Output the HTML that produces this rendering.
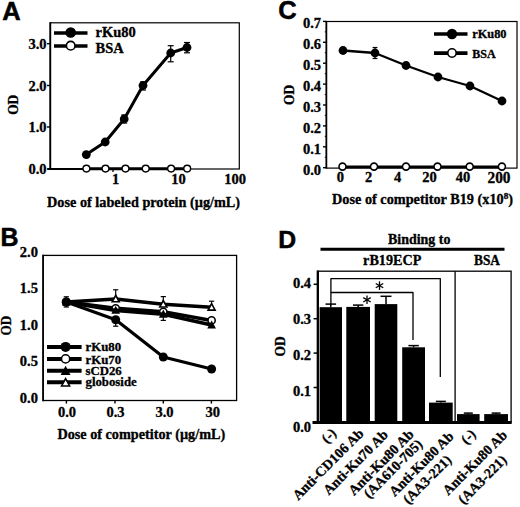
<!DOCTYPE html>
<html><head><meta charset="utf-8"><title>Figure</title>
<style>
html,body{margin:0;padding:0;background:#fff;}
svg{display:block;}
text.s{font-family:"Liberation Serif", serif;font-weight:bold;fill:#000;stroke:#000;stroke-width:0.32px;}
text.h{font-family:"Liberation Sans", sans-serif;font-weight:bold;fill:#000;}
</style></head><body>
<svg width="520" height="507" viewBox="0 0 520 507">
<rect x="0" y="0" width="520" height="507" fill="#fff"/>
<text class="h" x="2.3" y="19.8" font-size="25.5" stroke="#000" stroke-width="0.5">A</text>
<rect x="50.3" y="22.8" width="189.0" height="146.2" fill="none" stroke="#000" stroke-width="1.2"/>
<line x1="50.3" y1="22.2" x2="50.3" y2="169.8" stroke="#000" stroke-width="1.8" stroke-linecap="butt"/>
<line x1="47.5" y1="169" x2="86" y2="169" stroke="#000" stroke-width="1.8" stroke-linecap="butt"/>
<line x1="47" y1="43.7" x2="50" y2="43.7" stroke="#000" stroke-width="1.4" stroke-linecap="butt"/>
<text class="s" x="46.6" y="48.800000000000004" font-size="14.5" text-anchor="end">3.0</text>
<line x1="47" y1="85.5" x2="50" y2="85.5" stroke="#000" stroke-width="1.4" stroke-linecap="butt"/>
<text class="s" x="46.6" y="90.6" font-size="14.5" text-anchor="end">2.0</text>
<line x1="47" y1="127" x2="50" y2="127" stroke="#000" stroke-width="1.4" stroke-linecap="butt"/>
<text class="s" x="46.6" y="132.1" font-size="14.5" text-anchor="end">1.0</text>
<line x1="47" y1="169" x2="50" y2="169" stroke="#000" stroke-width="1.4" stroke-linecap="butt"/>
<text class="s" x="46.6" y="174.1" font-size="14.5" text-anchor="end">0.0</text>
<line x1="113" y1="169" x2="113" y2="172" stroke="#000" stroke-width="1.3" stroke-linecap="butt"/>
<text class="s" x="115.5" y="184.3" font-size="14.5" text-anchor="middle">1</text>
<text class="s" x="178.5" y="184.3" font-size="14.5" text-anchor="middle">10</text>
<text class="s" x="235" y="184.3" font-size="14.5" text-anchor="middle">100</text>
<text class="s" x="143.6" y="206.7" font-size="14" text-anchor="middle" textLength="193" lengthAdjust="spacingAndGlyphs">Dose of labeled protein (&#181;g/mL)</text>
<text class="s" transform="translate(18.1 104.8) rotate(-90) scale(0.865 1)" font-size="15.5" text-anchor="middle">OD</text>
<line x1="124.2" y1="115" x2="124.2" y2="123" stroke="#000" stroke-width="1.2" stroke-linecap="butt"/>
<line x1="121.2" y1="115" x2="127.2" y2="115" stroke="#000" stroke-width="1.2" stroke-linecap="butt"/>
<line x1="121.2" y1="123" x2="127.2" y2="123" stroke="#000" stroke-width="1.2" stroke-linecap="butt"/>
<line x1="143" y1="82.0" x2="143" y2="90.0" stroke="#000" stroke-width="1.2" stroke-linecap="butt"/>
<line x1="140" y1="82.0" x2="146" y2="82.0" stroke="#000" stroke-width="1.2" stroke-linecap="butt"/>
<line x1="140" y1="90.0" x2="146" y2="90.0" stroke="#000" stroke-width="1.2" stroke-linecap="butt"/>
<line x1="170.7" y1="45.7" x2="170.7" y2="61.8" stroke="#000" stroke-width="1.2" stroke-linecap="butt"/>
<line x1="167.7" y1="45.7" x2="173.7" y2="45.7" stroke="#000" stroke-width="1.2" stroke-linecap="butt"/>
<line x1="167.7" y1="61.8" x2="173.7" y2="61.8" stroke="#000" stroke-width="1.2" stroke-linecap="butt"/>
<line x1="187" y1="42.5" x2="187" y2="52.8" stroke="#000" stroke-width="1.2" stroke-linecap="butt"/>
<line x1="184" y1="42.5" x2="190" y2="42.5" stroke="#000" stroke-width="1.2" stroke-linecap="butt"/>
<line x1="184" y1="52.8" x2="190" y2="52.8" stroke="#000" stroke-width="1.2" stroke-linecap="butt"/>
<polyline points="86.3,154.6 105.2,142 124.2,119 143,85.5 170.7,53 187,47.5" fill="none" stroke="#000" stroke-width="3.0" stroke-linejoin="round"/>
<circle cx="86.3" cy="154.6" r="4.4" fill="#000"/>
<circle cx="105.2" cy="142" r="4.4" fill="#000"/>
<circle cx="124.2" cy="119" r="4.4" fill="#000"/>
<circle cx="143" cy="85.5" r="4.4" fill="#000"/>
<circle cx="170.7" cy="53" r="4.4" fill="#000"/>
<circle cx="187" cy="47.5" r="4.4" fill="#000"/>
<polyline points="86.4,168.8 105.5,168.8 125.5,168.8 145.7,168.8 171.1,168.8 187.2,168.8" fill="none" stroke="#000" stroke-width="3.0" stroke-linejoin="round"/>
<circle cx="86.4" cy="168.6" r="3.4" fill="#fff" stroke="#000" stroke-width="1.4"/>
<circle cx="105.5" cy="168.6" r="3.4" fill="#fff" stroke="#000" stroke-width="1.4"/>
<circle cx="125.5" cy="168.6" r="3.4" fill="#fff" stroke="#000" stroke-width="1.4"/>
<circle cx="145.7" cy="168.6" r="3.4" fill="#fff" stroke="#000" stroke-width="1.4"/>
<circle cx="171.1" cy="168.6" r="3.4" fill="#fff" stroke="#000" stroke-width="1.4"/>
<circle cx="187.2" cy="168.6" r="3.4" fill="#fff" stroke="#000" stroke-width="1.4"/>
<line x1="54" y1="33" x2="87.5" y2="33" stroke="#000" stroke-width="3.7" stroke-linecap="butt"/>
<circle cx="70.7" cy="32.5" r="5.3" fill="#000"/>
<line x1="54" y1="46" x2="87.5" y2="46" stroke="#000" stroke-width="3.7" stroke-linecap="butt"/>
<circle cx="70.7" cy="45.7" r="4.3" fill="#fff" stroke="#000" stroke-width="1.6"/>
<text class="s" x="95.5" y="37" font-size="14.5">rKu80</text>
<text class="s" x="95.5" y="52.6" font-size="14.5">BSA</text>
<text class="h" x="278.3" y="19.3" font-size="25.5" stroke="#000" stroke-width="0.5">C</text>
<rect x="326.4" y="21.5" width="190.60000000000002" height="146.6" fill="none" stroke="#000" stroke-width="1.2"/>
<line x1="326.4" y1="20.9" x2="326.4" y2="168.5" stroke="#000" stroke-width="1.7" stroke-linecap="butt"/>
<line x1="323" y1="167.7" x2="326" y2="167.7" stroke="#000" stroke-width="1.4" stroke-linecap="butt"/>
<text class="s" x="321" y="175.29999999999998" font-size="14.5" text-anchor="end">0.0</text>
<line x1="324.8" y1="157.25" x2="326" y2="157.25" stroke="#000" stroke-width="1" stroke-linecap="butt"/>
<line x1="323" y1="146.79999999999998" x2="326" y2="146.79999999999998" stroke="#000" stroke-width="1.4" stroke-linecap="butt"/>
<text class="s" x="321" y="154.2" font-size="14.5" text-anchor="end">0.1</text>
<line x1="324.8" y1="136.35" x2="326" y2="136.35" stroke="#000" stroke-width="1" stroke-linecap="butt"/>
<line x1="323" y1="125.89999999999999" x2="326" y2="125.89999999999999" stroke="#000" stroke-width="1.4" stroke-linecap="butt"/>
<text class="s" x="321" y="133.1" font-size="14.5" text-anchor="end">0.2</text>
<line x1="324.8" y1="115.44999999999999" x2="326" y2="115.44999999999999" stroke="#000" stroke-width="1" stroke-linecap="butt"/>
<line x1="323" y1="105.0" x2="326" y2="105.0" stroke="#000" stroke-width="1.4" stroke-linecap="butt"/>
<text class="s" x="321" y="112.0" font-size="14.5" text-anchor="end">0.3</text>
<line x1="324.8" y1="94.55" x2="326" y2="94.55" stroke="#000" stroke-width="1" stroke-linecap="butt"/>
<line x1="323" y1="84.1" x2="326" y2="84.1" stroke="#000" stroke-width="1.4" stroke-linecap="butt"/>
<text class="s" x="321" y="90.89999999999999" font-size="14.5" text-anchor="end">0.4</text>
<line x1="324.8" y1="73.64999999999999" x2="326" y2="73.64999999999999" stroke="#000" stroke-width="1" stroke-linecap="butt"/>
<line x1="323" y1="63.19999999999999" x2="326" y2="63.19999999999999" stroke="#000" stroke-width="1.4" stroke-linecap="butt"/>
<text class="s" x="321" y="69.79999999999998" font-size="14.5" text-anchor="end">0.5</text>
<line x1="324.8" y1="52.749999999999986" x2="326" y2="52.749999999999986" stroke="#000" stroke-width="1" stroke-linecap="butt"/>
<line x1="323" y1="42.3" x2="326" y2="42.3" stroke="#000" stroke-width="1.4" stroke-linecap="butt"/>
<text class="s" x="321" y="48.699999999999996" font-size="14.5" text-anchor="end">0.6</text>
<line x1="324.8" y1="31.849999999999998" x2="326" y2="31.849999999999998" stroke="#000" stroke-width="1" stroke-linecap="butt"/>
<line x1="323" y1="21.400000000000006" x2="326" y2="21.400000000000006" stroke="#000" stroke-width="1.4" stroke-linecap="butt"/>
<text class="s" x="321" y="27.60000000000001" font-size="14.5" text-anchor="end">0.7</text>
<text class="s" x="340.3" y="181.8" font-size="14.5" text-anchor="middle">0</text>
<text class="s" x="368.7" y="181.8" font-size="14.5" text-anchor="middle">2</text>
<text class="s" x="397.7" y="181.8" font-size="14.5" text-anchor="middle">4</text>
<text class="s" x="429.5" y="181.8" font-size="14.5" text-anchor="middle">20</text>
<text class="s" x="463" y="181.8" font-size="14.5" text-anchor="middle">40</text>
<text class="s" x="499" y="182.8" font-size="16.5" text-anchor="middle" textLength="23" lengthAdjust="spacingAndGlyphs" stroke-width="0.6">200</text>
<text class="s" x="332" y="203.6" font-size="14" textLength="181" lengthAdjust="spacingAndGlyphs">Dose of competitor B19 (x10<tspan dy="-5" font-size="9">8</tspan><tspan dy="5">)</tspan></text>
<text class="s" transform="translate(293.5 95) rotate(-90) scale(0.865 1)" font-size="15.5" text-anchor="middle">OD</text>
<line x1="343" y1="47.5" x2="343" y2="53.5" stroke="#000" stroke-width="1.2" stroke-linecap="butt"/>
<line x1="340.8" y1="47.5" x2="345.2" y2="47.5" stroke="#000" stroke-width="1.2" stroke-linecap="butt"/>
<line x1="340.8" y1="53.5" x2="345.2" y2="53.5" stroke="#000" stroke-width="1.2" stroke-linecap="butt"/>
<line x1="375" y1="47.5" x2="375" y2="58.5" stroke="#000" stroke-width="1.2" stroke-linecap="butt"/>
<line x1="372.6" y1="47.5" x2="377.4" y2="47.5" stroke="#000" stroke-width="1.2" stroke-linecap="butt"/>
<line x1="372.6" y1="58.5" x2="377.4" y2="58.5" stroke="#000" stroke-width="1.2" stroke-linecap="butt"/>
<polyline points="343,50.5 375,53 406,65.5 438,77 470,86 502,101" fill="none" stroke="#000" stroke-width="2.3" stroke-linejoin="round"/>
<circle cx="343" cy="50.5" r="4.4" fill="#000"/>
<circle cx="375" cy="53" r="4.4" fill="#000"/>
<circle cx="406" cy="65.5" r="4.4" fill="#000"/>
<circle cx="438" cy="77" r="4.4" fill="#000"/>
<circle cx="470" cy="86" r="4.4" fill="#000"/>
<circle cx="502" cy="101" r="4.4" fill="#000"/>
<polyline points="342.5,166.9 374,166.9 406,166.9 437.5,166.9 469.7,166.9 501.9,166.9" fill="none" stroke="#000" stroke-width="2.6" stroke-linejoin="round"/>
<circle cx="342.5" cy="166.6" r="3.5" fill="#fff" stroke="#000" stroke-width="1.6"/>
<circle cx="374" cy="166.6" r="3.5" fill="#fff" stroke="#000" stroke-width="1.6"/>
<circle cx="406" cy="166.6" r="3.5" fill="#fff" stroke="#000" stroke-width="1.6"/>
<circle cx="437.5" cy="166.6" r="3.5" fill="#fff" stroke="#000" stroke-width="1.6"/>
<circle cx="469.7" cy="166.6" r="3.5" fill="#fff" stroke="#000" stroke-width="1.6"/>
<circle cx="501.9" cy="166.6" r="3.5" fill="#fff" stroke="#000" stroke-width="1.6"/>
<line x1="434" y1="34" x2="467.5" y2="34" stroke="#000" stroke-width="3.7" stroke-linecap="butt"/>
<circle cx="452" cy="34" r="5.2" fill="#000"/>
<line x1="434" y1="53.1" x2="467.5" y2="53.1" stroke="#000" stroke-width="3.7" stroke-linecap="butt"/>
<circle cx="452" cy="53" r="4.2" fill="#fff" stroke="#000" stroke-width="1.6"/>
<text class="s" x="472.2" y="38.1" font-size="12.5" textLength="34.3" lengthAdjust="spacingAndGlyphs">rKu80</text>
<text class="s" x="472.2" y="57.7" font-size="12.5" textLength="23.4" lengthAdjust="spacingAndGlyphs">BSA</text>
<text class="h" x="0.6" y="245.6" font-size="25" stroke="#000" stroke-width="0.5">B</text>
<rect x="43.1" y="255.4" width="193.5" height="145.1" fill="none" stroke="#000" stroke-width="1.3"/>
<line x1="43.1" y1="254.8" x2="43.1" y2="401.2" stroke="#000" stroke-width="1.6" stroke-linecap="butt"/>
<text class="s" x="37.9" y="256.9" font-size="14.5" text-anchor="end">2.0</text>
<text class="s" x="37.9" y="293.29999999999995" font-size="14.5" text-anchor="end">1.5</text>
<text class="s" x="37.9" y="329.7" font-size="14.5" text-anchor="end">1.0</text>
<text class="s" x="37.9" y="366.09999999999997" font-size="14.5" text-anchor="end">0.5</text>
<text class="s" x="37.9" y="402.5" font-size="14.5" text-anchor="end">0.0</text>
<text class="s" x="67" y="416.5" font-size="14.5" text-anchor="middle">0.0</text>
<line x1="66.4" y1="400.5" x2="66.4" y2="403.6" stroke="#000" stroke-width="1.4" stroke-linecap="butt"/>
<text class="s" x="115.5" y="416.5" font-size="14.5" text-anchor="middle">0.3</text>
<line x1="115" y1="400.5" x2="115" y2="403.6" stroke="#000" stroke-width="1.4" stroke-linecap="butt"/>
<text class="s" x="164.5" y="416.5" font-size="14.5" text-anchor="middle">3.0</text>
<line x1="163.3" y1="400.5" x2="163.3" y2="403.6" stroke="#000" stroke-width="1.4" stroke-linecap="butt"/>
<text class="s" x="212.8" y="416.5" font-size="14.5" text-anchor="middle">30</text>
<line x1="211.4" y1="400.5" x2="211.4" y2="403.6" stroke="#000" stroke-width="1.4" stroke-linecap="butt"/>
<text class="s" x="57.4" y="438.8" font-size="14" textLength="167.8" lengthAdjust="spacingAndGlyphs">Dose of competitor (&#181;g/mL)</text>
<text class="s" transform="translate(11.4 325.5) rotate(-90) scale(0.88 1)" font-size="15" text-anchor="middle">OD</text>
<line x1="66.3" y1="296.8" x2="66.3" y2="307" stroke="#000" stroke-width="1.2" stroke-linecap="butt"/>
<line x1="63.699999999999996" y1="296.8" x2="68.89999999999999" y2="296.8" stroke="#000" stroke-width="1.2" stroke-linecap="butt"/>
<line x1="63.699999999999996" y1="307" x2="68.89999999999999" y2="307" stroke="#000" stroke-width="1.2" stroke-linecap="butt"/>
<line x1="115.7" y1="289.8" x2="115.7" y2="299" stroke="#000" stroke-width="1.2" stroke-linecap="butt"/>
<line x1="113.10000000000001" y1="289.8" x2="118.3" y2="289.8" stroke="#000" stroke-width="1.2" stroke-linecap="butt"/>
<line x1="163.3" y1="296.59999999999997" x2="163.3" y2="304.2" stroke="#000" stroke-width="1.2" stroke-linecap="butt"/>
<line x1="160.70000000000002" y1="296.59999999999997" x2="165.9" y2="296.59999999999997" stroke="#000" stroke-width="1.2" stroke-linecap="butt"/>
<line x1="211.6" y1="301.2" x2="211.6" y2="307.3" stroke="#000" stroke-width="1.2" stroke-linecap="butt"/>
<line x1="209.0" y1="301.2" x2="214.2" y2="301.2" stroke="#000" stroke-width="1.2" stroke-linecap="butt"/>
<line x1="115.7" y1="319.7" x2="115.7" y2="326.2" stroke="#000" stroke-width="1.2" stroke-linecap="butt"/>
<line x1="113.10000000000001" y1="326.2" x2="118.3" y2="326.2" stroke="#000" stroke-width="1.2" stroke-linecap="butt"/>
<line x1="163.3" y1="312.5" x2="163.3" y2="320.4" stroke="#000" stroke-width="1.2" stroke-linecap="butt"/>
<line x1="160.70000000000002" y1="320.4" x2="165.9" y2="320.4" stroke="#000" stroke-width="1.2" stroke-linecap="butt"/>
<polyline points="66.3,302 115.7,319.7 163.3,357 211.6,369" fill="none" stroke="#000" stroke-width="3.2" stroke-linejoin="round"/>
<circle cx="66.3" cy="302" r="4.5" fill="#000"/>
<circle cx="115.7" cy="319.7" r="4.5" fill="#000"/>
<circle cx="163.3" cy="357" r="4.5" fill="#000"/>
<circle cx="211.6" cy="369" r="4.5" fill="#000"/>
<polyline points="66.3,302 115.7,308.3 163.3,311.8 211.6,320.4" fill="none" stroke="#000" stroke-width="3.6" stroke-linejoin="round"/>
<circle cx="115.7" cy="308.3" r="3.6" fill="#fff" stroke="#000" stroke-width="1.6"/>
<circle cx="163.3" cy="311.8" r="3.6" fill="#fff" stroke="#000" stroke-width="1.6"/>
<circle cx="211.6" cy="320.4" r="3.6" fill="#fff" stroke="#000" stroke-width="1.6"/>
<polyline points="66.3,302 115.7,310.4 163.3,314.2 211.6,325" fill="none" stroke="#000" stroke-width="3.6" stroke-linejoin="round"/>
<polygon points="66.3,297.4 61.93,305.45 70.67,305.45" fill="#000"/>
<polygon points="115.7,305.79999999999995 111.33,313.84999999999997 120.07000000000001,313.84999999999997" fill="#000"/>
<polygon points="163.3,309.59999999999997 158.93,317.65 167.67000000000002,317.65" fill="#000"/>
<polygon points="211.6,320.4 207.23,328.45 215.97,328.45" fill="#000"/>
<polyline points="66.3,302 115.7,299 163.3,304.2 211.6,307.3" fill="none" stroke="#000" stroke-width="3.5" stroke-linejoin="round"/>
<polygon points="115.7,295.3 112.185,301.775 119.215,301.775" fill="#fff" stroke="#000" stroke-width="1.6" stroke-linejoin="miter"/>
<polygon points="163.3,300.5 159.78500000000003,306.97499999999997 166.815,306.97499999999997" fill="#fff" stroke="#000" stroke-width="1.6" stroke-linejoin="miter"/>
<polygon points="211.6,303.6 208.085,310.075 215.11499999999998,310.075" fill="#fff" stroke="#000" stroke-width="1.6" stroke-linejoin="miter"/>
<circle cx="66.3" cy="302" r="4.6" fill="#000"/>
<line x1="47" y1="346.9" x2="81.6" y2="346.9" stroke="#000" stroke-width="4.0" stroke-linecap="butt"/>
<text class="s" x="85.5" y="350.6" font-size="12.8">rKu80</text>
<line x1="47" y1="358.9" x2="81.6" y2="358.9" stroke="#000" stroke-width="4.0" stroke-linecap="butt"/>
<text class="s" x="85.5" y="364" font-size="12.8">rKu70</text>
<line x1="47" y1="370.8" x2="81.6" y2="370.8" stroke="#000" stroke-width="4.0" stroke-linecap="butt"/>
<text class="s" x="85.5" y="375.1" font-size="12.8">sCD26</text>
<line x1="47" y1="382.3" x2="81.6" y2="382.3" stroke="#000" stroke-width="4.0" stroke-linecap="butt"/>
<text class="s" x="85.5" y="385.5" font-size="12.8">globoside</text>
<circle cx="65.6" cy="346.9" r="5" fill="#000"/>
<circle cx="65.6" cy="358.9" r="4.1" fill="#fff" stroke="#000" stroke-width="1.6"/>
<polygon points="65.6,365.8 60.66,374.9 70.53999999999999,374.9" fill="#000"/>
<polygon points="65.6,378.6 61.60999999999999,385.95 69.58999999999999,385.95" fill="#fff" stroke="#000" stroke-width="1.6" stroke-linejoin="miter"/>
<text class="h" x="278.2" y="247.9" font-size="24.8" stroke="#000" stroke-width="0.5">D</text>
<text class="s" x="388" y="243.9" font-size="14" textLength="62.4" lengthAdjust="spacingAndGlyphs">Binding to</text>
<line x1="320.5" y1="249.3" x2="504.5" y2="249.3" stroke="#000" stroke-width="3.0" stroke-linecap="butt"/>
<text class="s" x="363.1" y="265.4" font-size="14" textLength="58.2" lengthAdjust="spacingAndGlyphs">rB19ECP</text>
<text class="s" x="474" y="265.4" font-size="14" textLength="26" lengthAdjust="spacingAndGlyphs">BSA</text>
<rect x="318" y="271.2" width="193.10000000000002" height="150.7" fill="none" stroke="#000" stroke-width="1.3"/>
<line x1="317.8" y1="270.5" x2="317.8" y2="424" stroke="#000" stroke-width="2.3" stroke-linecap="butt"/>
<line x1="312.5" y1="422.6" x2="511.7" y2="422.6" stroke="#000" stroke-width="3.0" stroke-linecap="butt"/>
<line x1="455.1" y1="271.2" x2="455.1" y2="421.9" stroke="#000" stroke-width="1.3" stroke-linecap="butt"/>
<text class="s" x="311" y="431.9" font-size="14.5" text-anchor="end">0.0</text>
<line x1="313.6" y1="387.5" x2="317.5" y2="387.5" stroke="#000" stroke-width="1.5" stroke-linecap="butt"/>
<text class="s" x="311" y="395.79999999999995" font-size="14.5" text-anchor="end">0.1</text>
<line x1="313.6" y1="353.09999999999997" x2="317.5" y2="353.09999999999997" stroke="#000" stroke-width="1.5" stroke-linecap="butt"/>
<text class="s" x="311" y="359.7" font-size="14.5" text-anchor="end">0.2</text>
<line x1="313.6" y1="318.7" x2="317.5" y2="318.7" stroke="#000" stroke-width="1.5" stroke-linecap="butt"/>
<text class="s" x="311" y="323.59999999999997" font-size="14.5" text-anchor="end">0.3</text>
<line x1="313.6" y1="284.29999999999995" x2="317.5" y2="284.29999999999995" stroke="#000" stroke-width="1.5" stroke-linecap="butt"/>
<text class="s" x="311" y="287.5" font-size="14.5" text-anchor="end">0.4</text>
<text class="s" transform="translate(284.8 346.5) rotate(-90) scale(0.865 1)" font-size="15.5" text-anchor="middle">OD</text>
<rect x="319.6" y="307.2" width="22.399999999999977" height="114.69999999999999" fill="#000"/>
<line x1="330.8" y1="304.09999999999997" x2="330.8" y2="307.2" stroke="#000" stroke-width="1.5" stroke-linecap="butt"/>
<line x1="325.5" y1="304.09999999999997" x2="336.1" y2="304.09999999999997" stroke="#000" stroke-width="1.5" stroke-linecap="butt"/>
<rect x="346.3" y="306.9" width="23.69999999999999" height="115.0" fill="#000"/>
<line x1="358.15" y1="305.09999999999997" x2="358.15" y2="306.9" stroke="#000" stroke-width="1.5" stroke-linecap="butt"/>
<line x1="352.95" y1="305.09999999999997" x2="363.34999999999997" y2="305.09999999999997" stroke="#000" stroke-width="1.5" stroke-linecap="butt"/>
<rect x="374.7" y="304.1" width="22.600000000000023" height="117.79999999999995" fill="#000"/>
<line x1="386.0" y1="296.3" x2="386.0" y2="304.1" stroke="#000" stroke-width="1.5" stroke-linecap="butt"/>
<line x1="380.5" y1="296.3" x2="391.5" y2="296.3" stroke="#000" stroke-width="1.5" stroke-linecap="butt"/>
<rect x="402.2" y="347.3" width="22.80000000000001" height="74.59999999999997" fill="#000"/>
<line x1="413.6" y1="345.6" x2="413.6" y2="347.3" stroke="#000" stroke-width="1.5" stroke-linecap="butt"/>
<line x1="408.40000000000003" y1="345.6" x2="418.8" y2="345.6" stroke="#000" stroke-width="1.5" stroke-linecap="butt"/>
<rect x="429" y="402.6" width="23.69999999999999" height="19.299999999999955" fill="#000"/>
<line x1="440.85" y1="401.40000000000003" x2="440.85" y2="402.6" stroke="#000" stroke-width="1.5" stroke-linecap="butt"/>
<line x1="435.85" y1="401.40000000000003" x2="445.85" y2="401.40000000000003" stroke="#000" stroke-width="1.5" stroke-linecap="butt"/>
<rect x="457" y="414.1" width="22.600000000000023" height="7.7999999999999545" fill="#000"/>
<line x1="468.3" y1="413.1" x2="468.3" y2="414.1" stroke="#000" stroke-width="1.5" stroke-linecap="butt"/>
<line x1="463.8" y1="413.1" x2="472.8" y2="413.1" stroke="#000" stroke-width="1.5" stroke-linecap="butt"/>
<rect x="484.2" y="414.1" width="23.80000000000001" height="7.7999999999999545" fill="#000"/>
<line x1="496.1" y1="413.1" x2="496.1" y2="414.1" stroke="#000" stroke-width="1.5" stroke-linecap="butt"/>
<line x1="491.6" y1="413.1" x2="500.6" y2="413.1" stroke="#000" stroke-width="1.5" stroke-linecap="butt"/>
<polyline points="330.9,304 330.9,278.6 440.3,278.6 440.3,377" fill="none" stroke="#000" stroke-width="1.3" stroke-linejoin="round"/>
<polyline points="330.9,292.5 413,292.5 413,340" fill="none" stroke="#000" stroke-width="1.3" stroke-linejoin="round"/>
<line x1="379.5" y1="281.3" x2="379.5" y2="289.9" stroke="#000" stroke-width="1.3" stroke-linecap="butt"/>
<line x1="375.78" y1="283.45" x2="383.22" y2="287.75" stroke="#000" stroke-width="1.3" stroke-linecap="butt"/>
<line x1="383.22" y1="283.45" x2="375.78" y2="287.75" stroke="#000" stroke-width="1.3" stroke-linecap="butt"/>
<line x1="367.0" y1="295.5" x2="367.0" y2="304.1" stroke="#000" stroke-width="1.3" stroke-linecap="butt"/>
<line x1="363.28" y1="297.65" x2="370.72" y2="301.95" stroke="#000" stroke-width="1.3" stroke-linecap="butt"/>
<line x1="370.72" y1="297.65" x2="363.28" y2="301.95" stroke="#000" stroke-width="1.3" stroke-linecap="butt"/>
<text class="s" transform="translate(337 434) rotate(-45)" font-size="14" text-anchor="end">(-)</text>
<text class="s" transform="translate(364.6 434.3) rotate(-45)" font-size="14" text-anchor="end" textLength="94" lengthAdjust="spacingAndGlyphs">Anti-CD106 Ab</text>
<text class="s" transform="translate(388.9 435.5) rotate(-45)" font-size="14" text-anchor="end" textLength="85" lengthAdjust="spacingAndGlyphs">Anti-Ku70 Ab</text>
<text class="s" transform="translate(414.7 435.1) rotate(-45)" font-size="14" text-anchor="end" textLength="86" lengthAdjust="spacingAndGlyphs">Anti-Ku80 Ab</text>
<text class="s" transform="translate(423.2 445) rotate(-45)" font-size="14" text-anchor="end">(AA610-705)</text>
<text class="s" transform="translate(454.5 437.3) rotate(-45)" font-size="14" text-anchor="end">Anti-Ku80 Ab</text>
<text class="s" transform="translate(452.4 460.8) rotate(-45)" font-size="14" text-anchor="end">(AA3-221)</text>
<text class="s" transform="translate(476.5 435) rotate(-45)" font-size="14" text-anchor="end">(-)</text>
<text class="s" transform="translate(508 436) rotate(-45)" font-size="14" text-anchor="end">Anti-Ku80 Ab</text>
<text class="s" transform="translate(507.6 460.8) rotate(-45)" font-size="14" text-anchor="end">(AA3-221)</text>
</svg>
</body></html>
